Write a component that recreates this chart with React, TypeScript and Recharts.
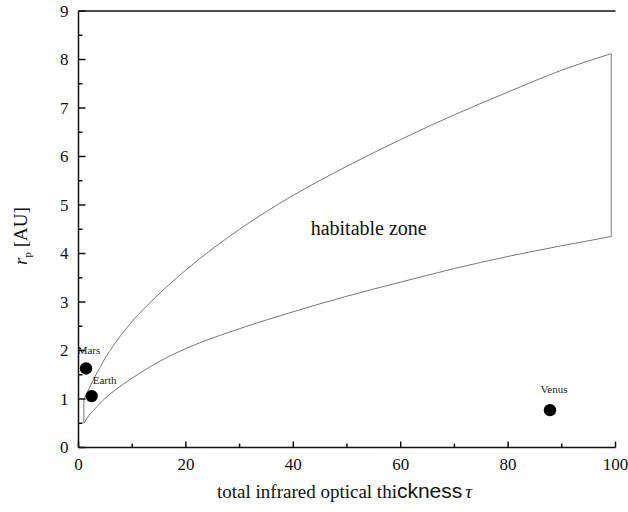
import React from "react";
import {
  ComposedChart,
  Line,
  Scatter,
  XAxis,
  YAxis,
  ReferenceLine,
  ReferenceDot,
} from "recharts";

// inner edge of the habitable zone (lower curve)
const lowerTau = [1.0, 2, 3.5, 5, 7, 10, 15, 20, 30, 40, 50, 60, 70, 80, 90, 99.2];
const lowerR = [0.5, 0.67, 0.85, 1.02, 1.2, 1.43, 1.77, 2.04, 2.45, 2.8, 3.12, 3.41, 3.69, 3.94, 4.16, 4.35];

// outer edge of the habitable zone (upper curve)
const upperTau = [1.0, 1.5, 2, 3, 4, 5, 6.5, 8, 10, 14, 20, 30, 40, 50, 60, 70, 80, 90, 99.2];
const upperR = [1.0, 1.1, 1.22, 1.45, 1.65, 1.85, 2.1, 2.33, 2.6, 3.06, 3.66, 4.5, 5.2, 5.8, 6.35, 6.86, 7.33, 7.78, 8.12];

const planetNames = ["Mars", "Earth", "Venus"];
const planetTau = [1.4, 2.45, 87.8];
const planetR = [1.63, 1.06, 0.77];

const xTicks = [0, 10, 20, 30, 40, 50, 60, 70, 80, 90, 100];
const yTicks = [0, 0.5, 1, 1.5, 2, 2.5, 3, 3.5, 4, 4.5, 5, 5.5, 6, 6.5, 7, 7.5, 8, 8.5, 9];

// label nudges for each planet (px from the dot centre)
const labelNudge: Record<string, [number, number]> = {
  Mars: [3, -14],
  Earth: [13, -12],
  Venus: [4, -17],
};

const SERIF = "Liberation Serif, Times New Roman, DejaVu Serif, serif";
const SANS = "Liberation Sans, Arial, sans-serif";
const INK = "#111";

const lowerEdge = lowerTau.map((t, i) => ({ tau: t, r: lowerR[i] }));
const upperEdge = upperTau.map((t, i) => ({ tau: t, r: upperR[i] }));
const last = lowerTau.length - 1;
const lastU = upperTau.length - 1;
const leftCap = [
  { tau: lowerTau[0], r: lowerR[0] },
  { tau: upperTau[0], r: upperR[0] },
];
const rightCap = [
  { tau: lowerTau[last], r: lowerR[last] },
  { tau: upperTau[lastU], r: upperR[lastU] },
];

const planets = planetNames.map((name, i) => ({
  name,
  tau: planetTau[i],
  r: planetR[i],
}));

const serif = (size: number) => ({ fontFamily: SERIF, fontSize: size });

function LeftTick({ x, y, payload }: any) {
  const major = Number.isInteger(payload.value);
  return (
    <g>
      <line x1={x} x2={x + (major ? 7 : 4)} y1={y} y2={y} stroke={INK} strokeWidth={1.5} />
      {major && (
        <text x={x - 10} y={y} dy="0.35em" textAnchor="end" style={serif(17)} fill={INK}>
          {payload.value}
        </text>
      )}
    </g>
  );
}

function RightTick({ x, y, payload }: any) {
  const major = Number.isInteger(payload.value);
  return <line x1={x} x2={x - (major ? 7 : 4)} y1={y} y2={y} stroke={INK} strokeWidth={1.5} />;
}

function BottomTick({ x, y, payload }: any) {
  const major = payload.value % 20 === 0;
  return (
    <g>
      <line x1={x} x2={x} y1={y} y2={y - (major ? 6 : 4)} stroke={INK} strokeWidth={1.5} />
      {major && (
        <text x={x} y={y + 17} dy="0.35em" textAnchor="middle" style={serif(17)} fill={INK}>
          {payload.value}
        </text>
      )}
    </g>
  );
}

function PlanetDot({ cx, cy, payload }: any) {
  const [dx, dy] = labelNudge[payload.name] || [0, -14];
  return (
    <g>
      <circle cx={cx} cy={cy} r={6.2} fill="#000" />
      <text x={cx + dx} y={cy + dy} textAnchor="middle" style={serif(11)} fill="#222">
        {payload.name}
      </text>
    </g>
  );
}

const edgeProps = {
  yAxisId: "l",
  dataKey: "r",
  stroke: "#555",
  strokeWidth: 0.8,
  dot: false,
  activeDot: false,
  isAnimationActive: false,
} as const;

export default function App() {
  return (
    <div style={{ position: "absolute", left: 0, top: 0, background: "#fff" }}>
      <ComposedChart
        width={628}
        height={512}
        margin={{ top: 11, right: 12.5, left: 18.5, bottom: 34.5 }}
      >
        <XAxis
          dataKey="tau"
          type="number"
          domain={[0, 100]}
          ticks={xTicks}
          interval={0}
          allowDataOverflow
          height={30}
          stroke={INK}
          strokeWidth={1.5}
          tickLine={false}
          tickSize={0}
          tickMargin={0}
          tick={<BottomTick />}
          label={{
            content: () => (
              <text x={217} y={498} style={serif(19)} fill={INK}>
                total infrared optical thi
                <tspan style={{ fontFamily: SANS, fontSize: 21 }}>ckness</tspan>
                <tspan style={{ fontStyle: "italic" }} dx={3}>τ</tspan>
              </text>
            ),
          }}
        />
        <YAxis
          yAxisId="l"
          dataKey="r"
          type="number"
          domain={[0, 9]}
          ticks={yTicks}
          interval={0}
          allowDataOverflow
          width={60}
          stroke={INK}
          strokeWidth={1.5}
          tickLine={false}
          tickSize={0}
          tickMargin={0}
          tick={<LeftTick />}
          label={{
            content: () => (
              <text
                x={27}
                y={236}
                transform="rotate(-90 27 236)"
                textAnchor="middle"
                style={serif(19)}
                fill={INK}
              >
                <tspan style={{ fontStyle: "italic" }}>r</tspan>
                <tspan style={{ fontSize: 11 }} dy={4}>p</tspan>
                <tspan dy={-4}> [AU]</tspan>
              </text>
            ),
          }}
        />
        <YAxis
          yAxisId="r"
          orientation="right"
          type="number"
          domain={[0, 9]}
          ticks={yTicks}
          interval={0}
          allowDataOverflow
          width={0}
          stroke={INK}
          strokeWidth={1.5}
          tickLine={false}
          tickSize={0}
          tickMargin={0}
          tick={<RightTick />}
        />
        <ReferenceLine yAxisId="l" y={9} stroke={INK} strokeWidth={1.5} />
        <ReferenceDot
          yAxisId="l"
          x={54}
          y={4.5}
          r={0}
          fill="none"
          stroke="none"
          label={{
            content: () => (
              <text x={368.7} y={235} textAnchor="middle" style={serif(20)} fill={INK}>
                habitable zone
              </text>
            ),
          }}
        />
        <Line {...edgeProps} data={lowerEdge} type="monotone" />
        <Line {...edgeProps} data={upperEdge} type="monotone" />
        <Line {...edgeProps} data={leftCap} type="linear" />
        <Line {...edgeProps} data={rightCap} type="linear" />
        <Scatter
          yAxisId="l"
          data={planets}
          dataKey="r"
          shape={<PlanetDot />}
          isAnimationActive={false}
        />
      </ComposedChart>
    </div>
  );
}
